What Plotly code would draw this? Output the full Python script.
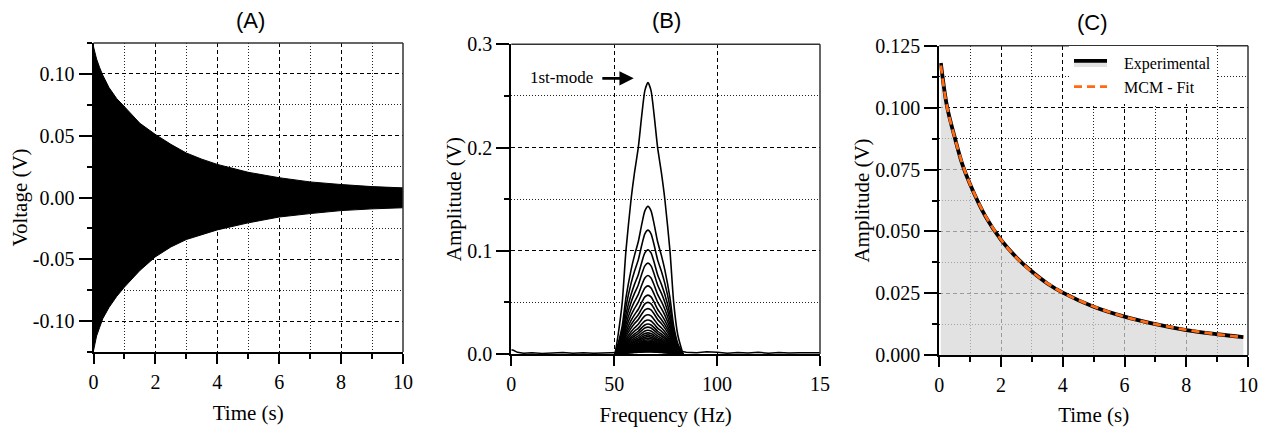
import plotly.graph_objects as go

# ---------------- DATA ----------------
# Panel A: envelope of the decaying voltage signal
time_env = [0.0, 0.05, 0.1, 0.2, 0.3, 0.5, 0.75, 1.0, 1.5, 2.0, 2.5, 3.0, 3.5, 4.0,
            5.0, 6.0, 7.0, 8.0, 9.0, 10.0]
upper_env = [0.122, 0.117, 0.112, 0.105, 0.099, 0.089, 0.080, 0.0735, 0.060, 0.051,
             0.043, 0.036, 0.031, 0.0268, 0.0204, 0.0160, 0.0126, 0.0105, 0.0088, 0.0078]
lower_env = [-0.124, -0.118, -0.112, -0.105, -0.098, -0.089, -0.080, -0.0725, -0.059,
             -0.048, -0.040, -0.034, -0.030, -0.0262, -0.0205, -0.0158, -0.0130,
             -0.0106, -0.0092, -0.0083]
a_yticks = [0.10, 0.05, 0.0, -0.05, -0.10]
a_yticklabels = ["0.10", "0.05", "0.00", "-0.05", "-0.10"]

# Panel B: spectra of successive windows (normalised peak profile + peak heights)
peak_center_hz = 66.4
peak_offsets = [-16, -14.5, -12.5, -10.7, -8.2, -6.5, -4.7, -3, -1.5, 0,
                1.5, 3, 4.7, 6.5, 8.2, 10.7, 12.5, 14.5, 17]
peak_profile = [0, 0.07, 0.19, 0.38, 0.57, 0.67, 0.76, 0.88, 0.97, 1.0,
                0.97, 0.88, 0.76, 0.67, 0.57, 0.38, 0.19, 0.07, 0]
peak_heights = [0.263, 0.143, 0.120, 0.101, 0.088, 0.076, 0.066, 0.057, 0.050,
                0.044, 0.038, 0.033, 0.029, 0.026, 0.023, 0.0205, 0.0185, 0.0168,
                0.0152, 0.0138, 0.0126, 0.0115, 0.0105, 0.0096, 0.0088, 0.0080,
                0.0073, 0.0066, 0.0060, 0.0054, 0.0049, 0.0044, 0.0040, 0.0036,
                0.0032, 0.0028, 0.0025, 0.0022]
base_freq = [0, 1, 3, 6, 10, 15, 20, 25, 30, 35, 40, 45, 50, 52,
             82, 85, 90, 95, 100, 105, 110, 115, 120, 125, 130, 135, 140, 145, 150]
base_amp = [0.0042, 0.0036, 0.0016, 0.0008, 0.0012, 0.0006, 0.0010, 0.0014, 0.0008,
            0.0012, 0.0007, 0.0011, 0.0012, 0.0015,
            0.0030, 0.0018, 0.0012, 0.0022, 0.0018, 0.0008, 0.0015, 0.0010, 0.0016,
            0.0008, 0.0014, 0.0009, 0.0013, 0.0010, 0.0012]
b_xticks = [0, 50, 100, 150]
b_xticklabels = ["0", "50", "100", "15"]

# Panel C: amplitude decay, experimental and MCM fit
decay_time = [0.05, 0.25, 0.5, 0.75, 1.0, 1.5, 2.0, 2.5, 3.0, 3.5, 4.0, 5.0, 6.0,
              7.0, 8.0, 9.0, 9.85]
decay_exp = [0.118, 0.1005, 0.088, 0.077, 0.069, 0.056, 0.0466, 0.0395, 0.0338,
             0.029, 0.0253, 0.0196, 0.0156, 0.0126, 0.0102, 0.0085, 0.0073]
decay_fit = [0.117, 0.1003, 0.0878, 0.0772, 0.0690, 0.0562, 0.0467, 0.0394, 0.0337,
             0.0291, 0.0253, 0.0197, 0.0156, 0.0126, 0.0103, 0.0085, 0.0073]
c_yticks = [0.0, 0.025, 0.05, 0.075, 0.10, 0.125]
c_yticklabels = ["0.000", "0.025", "0.050", "0.075", "0.100", "0.125"]

# ---------------- FIGURE ----------------
# the page body has an 8px margin; the figure is sized to fit inside the window
OFF = 8
W, H = 1270 - 2 * OFF, 435 - 2 * OFF
SERIF = "Liberation Serif, Times New Roman, serif"
SANS = "Liberation Sans, Arial, sans-serif"
NB = "\u00a0"

def px_x(p):
    return (p - OFF) / W

def px_y(p):
    return 1 - (p - OFF) / H

fig = go.Figure()

# Panel A
fig.add_trace(go.Scatter(x=time_env, y=lower_env, mode="lines",
                         line=dict(color="black", width=1), showlegend=False,
                         xaxis="x", yaxis="y"))
fig.add_trace(go.Scatter(x=time_env, y=upper_env, mode="lines", fill="tonexty",
                         fillcolor="black", line=dict(color="black", width=1),
                         showlegend=False, xaxis="x", yaxis="y"))

# Panel B
fig.add_trace(go.Scatter(x=base_freq, y=base_amp, mode="lines",
                         line=dict(color="black", width=1.5), showlegend=False,
                         xaxis="x2", yaxis="y2"))
for h in peak_heights:
    fig.add_trace(go.Scatter(
        x=[peak_center_hz + o for o in peak_offsets],
        y=[h * p for p in peak_profile],
        mode="lines", line=dict(color="black", width=1.6, shape="spline", smoothing=0.6),
        showlegend=False, xaxis="x2", yaxis="y2"))

# Panel C
fig.add_trace(go.Scatter(x=decay_time, y=decay_exp, mode="lines",
                         name=NB * 3 + "Experimental", legendgroup="exp",
                         fill="tozeroy", fillcolor="rgba(215,215,215,0.72)",
                         line=dict(color="black", width=3.8, shape="spline"),
                         xaxis="x3", yaxis="y3"))
fig.add_trace(go.Scatter(x=decay_time, y=decay_fit, mode="lines",
                         name=NB * 3 + "MCM - Fit", legendgroup="fit",
                         line=dict(color="#FF6A13", width=2.8, dash="8px,5px",
                                   shape="spline"),
                         xaxis="x3", yaxis="y3"))

dash_major = "4px,3px"
dot_minor = "1px,2px"

def xaxis_cfg(domain, rng, tickvals, ticktext, minor_vals, title, anchor):
    return dict(
        domain=domain, range=rng, anchor=anchor, automargin=False,
        tickmode="array", tickvals=tickvals, ticktext=ticktext,
        ticks="outside", ticklen=10, tickwidth=1.5, tickcolor="black",
        ticklabelstandoff=1,
        showline=True, linecolor="black", linewidth=2, mirror=False,
        showgrid=True, gridcolor="black", gridwidth=1.2, griddash=dash_major,
        zeroline=False,
        minor=dict(tickmode="array", tickvals=minor_vals, ticks="outside" if minor_vals else "",
                   ticklen=5, tickwidth=1.5, tickcolor="black",
                   showgrid=bool(minor_vals), gridcolor="#222", gridwidth=1.2,
                   griddash=dot_minor),
        tickfont=dict(family=SERIF, size=20, color="black"),
        title=dict(text=title, font=dict(family=SERIF, size=21, color="black"), standoff=13),
    )

def yaxis_cfg(domain, rng, tickvals, ticktext, minor_vals, title, anchor, standoff):
    d = xaxis_cfg(domain, rng, tickvals, ticktext, minor_vals, title, anchor)
    d["ticklabelstandoff"] = 0
    d["ticklen"] = 13
    d["minor"]["ticklen"] = 5
    d["title"]["standoff"] = standoff
    return d

# Domains (pixel-derived, screen coordinates)
A_x = [px_x(93.5), px_x(403)]
A_y = [px_y(352), px_y(43)]
B_x = [px_x(511.3), px_x(820)]
B_y = [px_y(354), px_y(44.3)]
C_x = [px_x(939.3), px_x(1248)]
C_y = [px_y(355.3), px_y(45.7)]

fig.update_layout(
    width=W, height=H,
    margin=dict(l=0, r=0, t=0, b=0, autoexpand=False),
    paper_bgcolor="white", plot_bgcolor="white",
    showlegend=True,
    xaxis=xaxis_cfg(A_x, [0, 10], [0, 2, 4, 6, 8, 10], ["0", "2", "4", "6", "8", "10"],
                    [1, 3, 5, 7, 9], "Time (s)", "y"),
    yaxis=yaxis_cfg(A_y, [-0.125, 0.125], a_yticks, a_yticklabels,
                    [-0.125, -0.075, -0.025, 0.025, 0.075, 0.125], "Voltage (V)", "x", 4),
    xaxis2=xaxis_cfg(B_x, [0, 150], b_xticks, b_xticklabels, [],
                     "Frequency (Hz)", "y2"),
    yaxis2=yaxis_cfg(B_y, [0, 0.3], [0, 0.1, 0.2, 0.3], ["0.0", "0.1", "0.2", "0.3"],
                     [0.05, 0.15, 0.25], "Amplitude (V)", "x2", 0),
    xaxis3=xaxis_cfg(C_x, [0, 10], [0, 2, 4, 6, 8, 10], ["0", "2", "4", "6", "8", "10"],
                     [1, 3, 5, 7, 9], "Time (s)", "y3"),
    yaxis3=yaxis_cfg(C_y, [0, 0.125], c_yticks, c_yticklabels,
                     [0.0125, 0.0375, 0.0625, 0.0875, 0.1125], "Amplitude (V)", "x3", 0),
    legend=dict(x=px_x(1069), y=px_y(46), xanchor="left", yanchor="top",
                bgcolor="white", borderwidth=0, traceorder="normal",
                font=dict(family=SERIF, size=16, color="black"),
                itemwidth=33, tracegroupgap=6),
)

# Frame: top and right edges
for xa, ya in (("x", "y"), ("x2", "y2"), ("x3", "y3")):
    fig.add_shape(type="line", xref=f"{xa} domain", yref=f"{ya} domain",
                  x0=0, x1=1, y0=1, y1=1, line=dict(color="#333", width=1.5))
    fig.add_shape(type="line", xref=f"{xa} domain", yref=f"{ya} domain",
                  x0=1, x1=1, y0=0, y1=1, line=dict(color="#333", width=1.5))

# Panel titles
for label, xc, yc in (("(A)", 250, 21), ("(B)", 667, 20), ("(C)", 1092, 22)):
    fig.add_annotation(text=label, x=px_x(xc), y=px_y(yc), xref="paper", yref="paper",
                       showarrow=False, xanchor="center", yanchor="middle",
                       font=dict(family=SANS, size=22, color="black"))

# 1st-mode arrow annotation
fig.add_annotation(x=59.5, y=0.267, ax=43.5, ay=0.267, xref="x2", yref="y2",
                   axref="x2", ayref="y2", text="", showarrow=True,
                   arrowhead=2, arrowsize=1.1, arrowwidth=2.6, arrowcolor="black")
fig.add_annotation(x=24.5, y=0.268, xref="x2", yref="y2", text="1st-mode",
                   showarrow=False, font=dict(family=SERIF, size=17, color="black"))

fig.write_html("out.html")
